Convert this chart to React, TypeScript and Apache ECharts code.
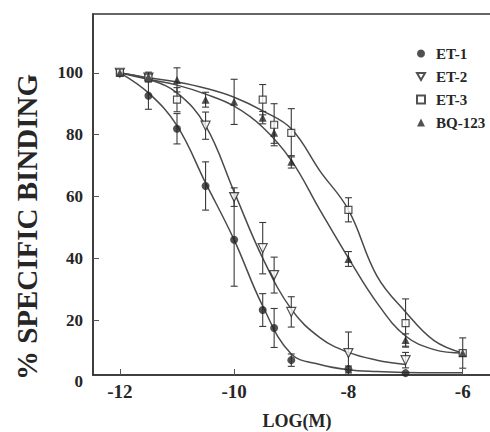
import React, { useEffect, useRef } from 'react';
import * as echarts from 'echarts';

// log concentrations at which binding was measured
const POINT_X = [-12, -11.5, -11, -10.5, -10, -9.5, -9.3, -9, -8, -7, -6];

// mean % specific binding (null = not shown)
const ET1_Y = [100, 92.6, 81.9, 63.4, 46.0, 23.3, 17.5, 7.1, 4.2, 2.9, null];
const ET1_ERR = [0, 4.4, 4.9, 7.8, 15, 5.3, 6.3, 2, 1, 0, 0];

const ET2_Y = [100, 98.4, null, 82.9, 59.8, 43.3, 34.6, 22.7, 9.4, 7.1, null];
const ET2_ERR = [0, 1, 0, 4.4, 3, 8.3, 5.8, 4.9, 6.8, 2.5, 0];

const ET3_Y = [100, 98.4, 91.3, null, null, 91.3, 83.2, 80.6, 55.7, 19.1, 9.4];
const ET3_ERR = [0, 1, 3.9, 0, 0, 4.9, 6.8, 7.8, 3.9, 7.8, 4.9];

const BQ_Y = [100, 98.7, 97.7, 91.3, 90.6, 85.5, 80.6, 71.2, 39.8, 13.6, 9.4];
const BQ_ERR = [0, 1.5, 3.9, 2.4, 7.3, 2, 3.4, 2, 2.4, 2, 0];

// fitted curves
const CURVE_X = [-12, -11.5, -11, -10.5, -10, -9.5, -9, -8.5, -8, -7.5, -7, -6.5, -6];
const ET1_CURVE = [100, 93.5, 82.9, 64.4, 46, 24.6, 9.1, 5.7, 4.0, 3.4, 3.1, 3.0, 3.0];
const ET2_CURVE = [100, 97.9, 93.5, 82.9, 61.5, 40.1, 23.6, 14.4, 9.6, 7.1, 5.7, null, null];
const ET3_CURVE = [100, 98.4, 97, 95, 92.1, 87.7, 81.9, 68.3, 55.7, 34.3, 22.7, 13.4, 9.4];
const BQ_CURVE = [100, 97.9, 96, 93.1, 89.2, 82.4, 71.7, 55.7, 40.1, 25.6, 14.9, 10.5, 9.4];

const X_TICKS = [-12, -10, -8, -6];
const Y_TICKS = [20, 40, 60, 80, 100];
const Y_ZERO_LABEL_AT = 2.3; // axis line sits slightly above 0 in the figure

const FONT = "'Liberation Serif', 'Times New Roman', serif";
const INK = '#262626';
const CURVE_INK = '#4a4a4a';

const pts = (ys: (number | null)[]) =>
  POINT_X.map((x, i) => (ys[i] == null ? null : [x, ys[i] as number])).filter(Boolean) as number[][];
const errs = (ys: (number | null)[], es: number[]) =>
  POINT_X.map((x, i) => (ys[i] == null || !es[i] ? null : [x, (ys[i] as number) - es[i], (ys[i] as number) + es[i]]))
    .filter(Boolean) as number[][];
const curve = (ys: (number | null)[]) =>
  CURVE_X.map((x, i) => (ys[i] == null ? null : [x, ys[i] as number])).filter(Boolean) as number[][];

const errRender = (params: any, api: any) => {
  const x = api.value(0);
  const a = api.coord([x, api.value(1)]);
  const b = api.coord([x, api.value(2)]);
  const w = 3.5;
  const style = { stroke: '#3a3a3a', lineWidth: 1.1 };
  return {
    type: 'group',
    children: [
      { type: 'line', shape: { x1: a[0], y1: a[1], x2: b[0], y2: b[1] }, style },
      { type: 'line', shape: { x1: a[0] - w, y1: a[1], x2: a[0] + w, y2: a[1] }, style },
      { type: 'line', shape: { x1: b[0] - w, y1: b[1], x2: b[0] + w, y2: b[1] }, style },
    ],
  };
};

export default function App() {
  const ref = useRef<HTMLDivElement>(null);
  useEffect(() => {
    if (!ref.current) return;
    const chart = echarts.init(ref.current, undefined, { renderer: 'svg' });
    const defs = [
      { name: 'ET-1', ys: ET1_Y, es: ET1_ERR, cv: ET1_CURVE, symbol: 'circle', size: 8, rotate: 0, hollow: false },
      { name: 'ET-2', ys: ET2_Y, es: ET2_ERR, cv: ET2_CURVE, symbol: 'triangle', size: 9, rotate: 180, hollow: true },
      { name: 'ET-3', ys: ET3_Y, es: ET3_ERR, cv: ET3_CURVE, symbol: 'rect', size: 7, rotate: 0, hollow: true },
      { name: 'BQ-123', ys: BQ_Y, es: BQ_ERR, cv: BQ_CURVE, symbol: 'triangle', size: 8, rotate: 0, hollow: false },
    ];
    const series: any[] = [];
    defs.forEach((d) => {
      series.push({
        type: 'line',
        name: d.name + ' fit',
        data: curve(d.cv),
        smooth: 0.4,
        showSymbol: false,
        symbol: 'none',
        lineStyle: { color: CURVE_INK, width: 1.5 },
        silent: true,
        z: 2,
      });
      series.push({
        type: 'custom',
        name: d.name + ' err',
        data: errs(d.ys, d.es),
        renderItem: errRender,
        encode: { x: 0, y: [1, 2] },
        silent: true,
        z: 3,
      });
    });
    defs.forEach((d) => {
      series.push({
        type: 'scatter',
        name: d.name,
        data: pts(d.ys),
        symbol: d.symbol,
        symbolSize: d.size,
        symbolRotate: d.rotate,
        itemStyle: d.hollow
          ? { color: '#ffffff', borderColor: INK, borderWidth: 1.2 }
          : { color: INK, borderColor: INK, borderWidth: 0 },
        z: 5,
      });
    });

    chart.setOption({
      animation: false,
      backgroundColor: '#ffffff',
      grid: {
        left: 93,
        right: -3,
        top: 14,
        bottom: 57,
        show: true,
        borderColor: '#333',
        borderWidth: 1.5,
        containLabel: false,
        outerBoundsMode: 'none',
      },
      legend: {
        orient: 'vertical',
        left: 411,
        top: 41,
        itemWidth: 8,
        itemHeight: 8,
        itemGap: 8,
        data: [
          { name: 'ET-1' },
          { name: 'ET-2', icon: 'path://M0,0L10,0L5,8.66Z' },
          { name: 'ET-3' },
          { name: 'BQ-123' },
        ],
        textStyle: { fontFamily: FONT, fontSize: 15, fontWeight: 'bold', color: INK, lineHeight: 14, padding: [0, 0, 0, 6] },
      },
      xAxis: {
        type: 'value',
        min: -12.47,
        max: -5.47,
        name: 'LOG(M)',
        nameLocation: 'middle',
        nameGap: 37,
        nameTextStyle: { fontFamily: FONT, fontSize: 18, fontWeight: 'bold', color: INK, padding: [0, 0, 0, 8] },
        axisLine: { lineStyle: { color: '#333', width: 1.5 } },
        axisTick: { inside: true, length: 6, customValues: X_TICKS, lineStyle: { color: '#555' } },
        axisLabel: {
          customValues: X_TICKS,
          margin: 7,
          fontFamily: FONT,
          fontSize: 19,
          fontWeight: 'bold',
          color: INK,
        },
        splitLine: { show: false },
      },
      yAxis: {
        type: 'value',
        min: Y_ZERO_LABEL_AT,
        max: 119,
        name: '% SPECIFIC BINDING',
        nameLocation: 'middle',
        nameGap: 52,
        nameTextStyle: { fontFamily: FONT, fontSize: 29, fontWeight: 'bold', color: INK, padding: [0, 65, 0, 0] },
        axisLine: { lineStyle: { color: '#333', width: 1.5 } },
        axisTick: { inside: true, length: 6, customValues: Y_TICKS, lineStyle: { color: '#555' } },
        axisLabel: {
          customValues: [Y_ZERO_LABEL_AT, ...Y_TICKS],
          margin: 10,
          fontFamily: FONT,
          fontSize: 17,
          fontWeight: 'bold',
          color: INK,
          formatter: (v: number) => (v < 10 ? '{z|0}' : String(Math.round(v))),
          rich: { z: { fontFamily: FONT, fontSize: 17, fontWeight: 'bold', color: INK, padding: [13, 0, 0, 0] } },
        },
        splitLine: { show: false },
      },
      series,
    });
    return () => chart.dispose();
  }, []);
  return <div ref={ref} style={{ position: 'absolute', left: 0, top: 0, width: 490, height: 432 }} />;
}
